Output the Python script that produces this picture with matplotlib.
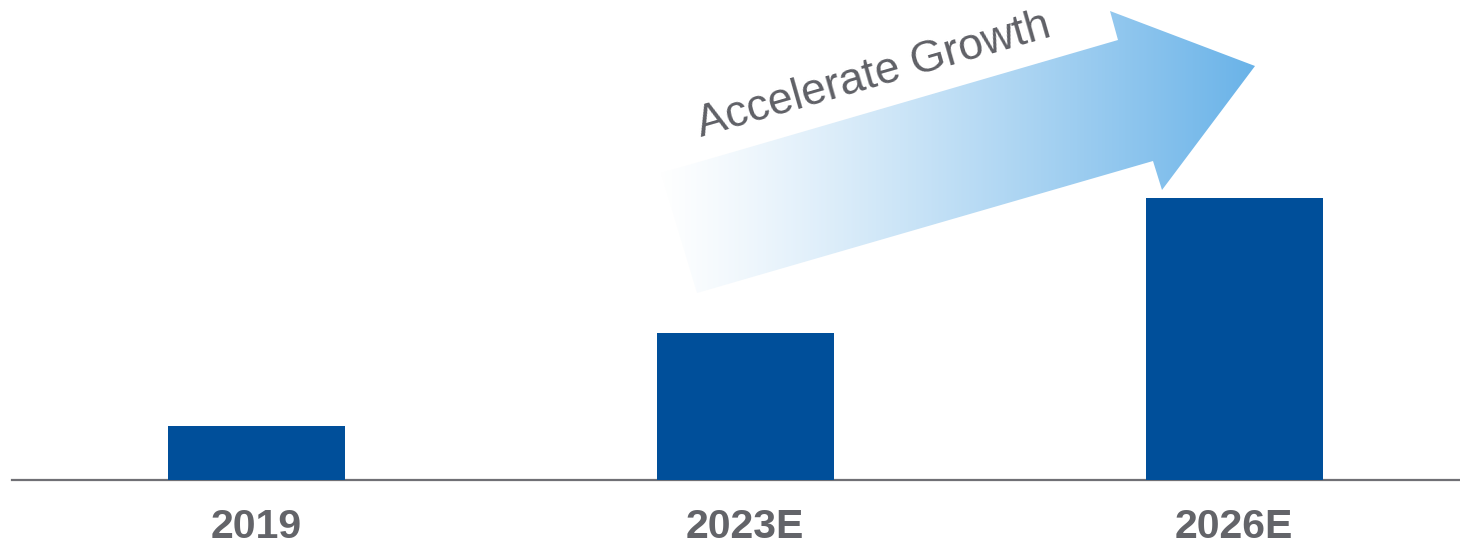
"""
Growth outlook bar chart with a gradient "Accelerate Growth" arrow.
"""
import numpy as np
import matplotlib
matplotlib.use('Agg')
import matplotlib.pyplot as plt
from matplotlib.patches import Polygon
from matplotlib.colors import to_rgb

# ── data ────────────────────────────────────────────────
years  = ['2019', '2023E', '2026E']
values = [54, 147, 282]

BAR_BLUE   = '#004f9a'
LABEL_GREY = '#636469'
AXIS_GREY  = '#707075'
ARROW_BLUE = '#68b2e8'

W, H = 1460, 548
fig = plt.figure(figsize=(W / 100, H / 100), dpi=100)
fig.patch.set_facecolor('white')

# main bar axes: baseline 68 px above the bottom edge
ax = fig.add_axes([12 / W, 68 / H, 1 - 12 / W, 480 / H])
x = np.arange(len(years))
ax.bar(x, values, width=0.362, color=BAR_BLUE, zorder=3)
ax.set_xlim(-0.5, 2.462)
ax.set_ylim(0, 480)

for side in ('top', 'right', 'left'):
    ax.spines[side].set_visible(False)
ax.spines['bottom'].set_color(AXIS_GREY)
ax.spines['bottom'].set_linewidth(1.6)
ax.set_yticks([])
ax.set_xticks(x)
ax.set_xticklabels(years, fontsize=29.5, fontweight='bold', color=LABEL_GREY,
                   family='Liberation Sans')
ax.tick_params(axis='x', length=0, pad=20)

# overlay in pixel coordinates for the arrow + caption
ov = fig.add_axes([0, 0, 1, 1])
ov.set_xlim(0, W)
ov.set_ylim(H, 0)
ov.axis('off')
ov.patch.set_alpha(0)

arrow_pts = [(661, 173), (1118, 40), (1110, 11), (1255, 66),
             (1162, 190), (1153, 161), (697, 293)]
arrow = Polygon(arrow_pts, closed=True, facecolor='none', edgecolor='none')
ov.add_patch(arrow)

# horizontal white -> blue ramp, clipped to the arrow outline
x0, x1 = 655, 1260
t = np.linspace(0, 1, 400) ** 1.2
c0, c1 = np.array(to_rgb('white')), np.array(to_rgb(ARROW_BLUE))
ramp = (1 - t)[:, None] * c0 + t[:, None] * c1
img = np.tile(ramp[None, :, :], (2, 1, 1))
im = ov.imshow(img, extent=(x0, x1, 300, 5), aspect='auto',
               interpolation='bilinear', zorder=2)
im.set_clip_path(arrow)

ov.text(701, 137, 'Accelerate Growth', rotation=16, rotation_mode='anchor',
        ha='left', va='baseline', fontsize=32, color='#5f6066',
        family='Liberation Sans', zorder=4)

plt.savefig('out.png', dpi=100, facecolor='white')
